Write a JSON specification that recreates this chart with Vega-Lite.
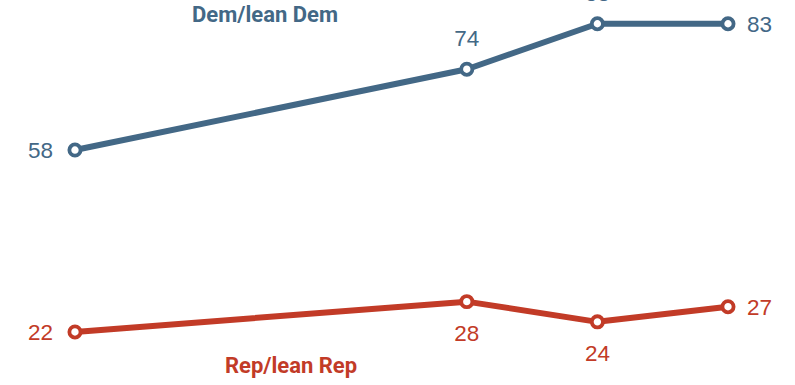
{
  "$schema": "https://vega.github.io/schema/vega-lite/v6.json",
  "width": 795,
  "height": 385,
  "padding": 0,
  "autosize": {"type": "none"},
  "background": "white",
  "config": {"view": {"stroke": null}},
  "datasets": {
    "series": [
      {"year": 2016, "party": "Dem/lean Dem", "value": 58},
      {"year": 2019, "party": "Dem/lean Dem", "value": 74},
      {"year": 2020, "party": "Dem/lean Dem", "value": 83},
      {"year": 2021, "party": "Dem/lean Dem", "value": 83},
      {"year": 2016, "party": "Rep/lean Rep", "value": 22},
      {"year": 2019, "party": "Rep/lean Rep", "value": 28},
      {"year": 2020, "party": "Rep/lean Rep", "value": 24},
      {"year": 2021, "party": "Rep/lean Rep", "value": 27}
    ],
    "labels": [
      {"party": "Dem/lean Dem", "year": 2017.455, "value": 83.34},
      {"party": "Rep/lean Rep", "year": 2017.654, "value": 13.84}
    ]
  },
  "encoding": {
    "x": {"field": "year", "type": "quantitative", "scale": {"domain": [2015.426, 2021.513], "nice": false, "zero": false}, "axis": null},
    "y": {"field": "value", "type": "quantitative", "scale": {"domain": [11.5, 87.7], "nice": false, "zero": false}, "axis": null},
    "color": {"field": "party", "type": "nominal", "scale": {"domain": ["Dem/lean Dem", "Rep/lean Rep"], "range": ["#436886", "#c23b27"]}, "legend": null}
  },
  "layer": [
    {
      "data": {"name": "series"},
      "mark": {"type": "line", "strokeWidth": 6, "strokeJoin": "round", "strokeCap": "round"}
    },
    {
      "data": {"name": "series"},
      "mark": {"type": "point", "filled": false, "fill": "white", "fillOpacity": 1, "opacity": 1, "size": 125, "strokeWidth": 3.8}
    },
    {
      "data": {"name": "series"},
      "transform": [{"filter": "datum.year == 2016"}],
      "mark": {"type": "text", "align": "right", "baseline": "alphabetic", "dx": -22, "dy": 8, "font": "Liberation Sans", "fontSize": 22.5},
      "encoding": {"text": {"field": "value", "type": "quantitative"}}
    },
    {
      "data": {"name": "series"},
      "transform": [{"filter": "datum.year == 2021"}],
      "mark": {"type": "text", "align": "left", "baseline": "alphabetic", "dx": 19, "dy": 8, "font": "Liberation Sans", "fontSize": 22.5},
      "encoding": {"text": {"field": "value", "type": "quantitative"}}
    },
    {
      "data": {"name": "series"},
      "transform": [{"filter": "datum.party == 'Dem/lean Dem' && datum.year > 2016 && datum.year < 2021"}],
      "mark": {"type": "text", "align": "center", "baseline": "alphabetic", "dy": -23, "font": "Liberation Sans", "fontSize": 22.5},
      "encoding": {"text": {"field": "value", "type": "quantitative"}}
    },
    {
      "data": {"name": "series"},
      "transform": [{"filter": "datum.party == 'Rep/lean Rep' && datum.year > 2016 && datum.year < 2021"}],
      "mark": {"type": "text", "align": "center", "baseline": "alphabetic", "dy": 39, "font": "Liberation Sans", "fontSize": 22.5},
      "encoding": {"text": {"field": "value", "type": "quantitative"}}
    },
    {
      "data": {"name": "labels"},
      "mark": {"type": "text", "align": "center", "baseline": "alphabetic", "font": "Roboto", "fontWeight": "bold", "fontSize": 22},
      "encoding": {"text": {"field": "party", "type": "nominal"}}
    }
  ]
}
